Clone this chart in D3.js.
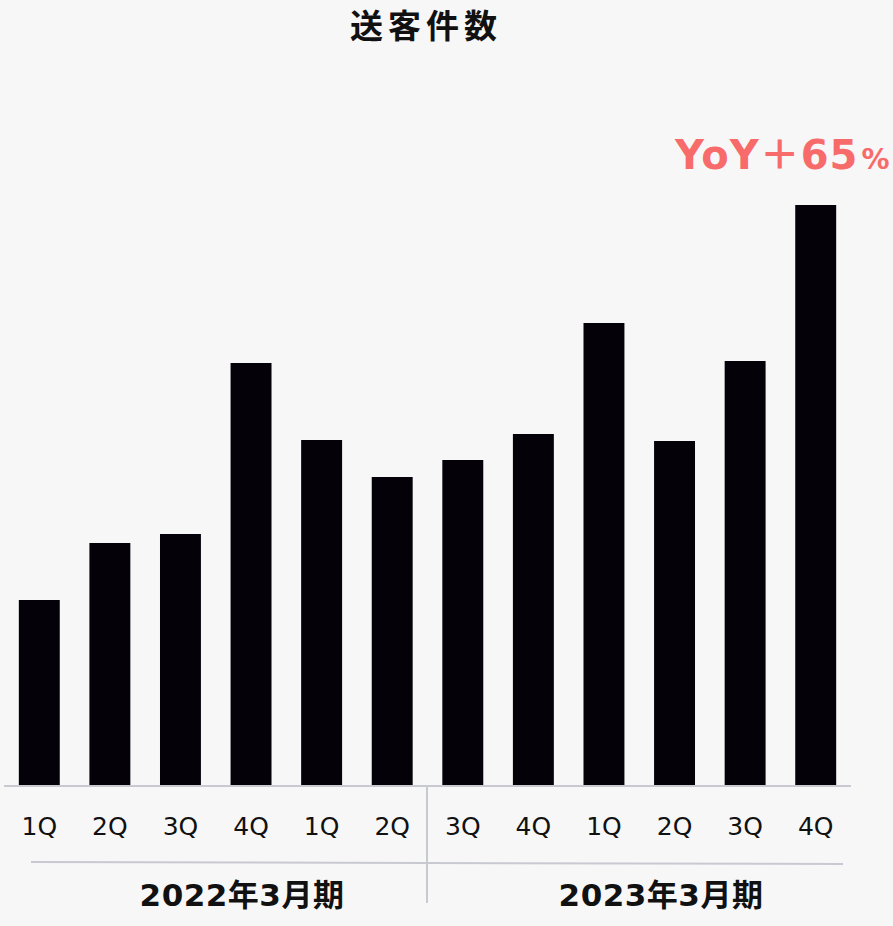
<!DOCTYPE html>
<html>
<head>
<meta charset="utf-8">
<script src="https://cdn.jsdelivr.net/npm/d3@7"></script>
<style>
  html, body { margin: 0; padding: 0; background: #f7f7f7; }
  svg { display: block; }
  text { font-family: "DejaVu Sans", "Noto Sans CJK JP", sans-serif; }
</style>
</head>
<body>
<svg id="chart" width="893" height="926"></svg>
<script>
// Quarterly referral counts (relative units)
const quarters = ["1Q", "2Q", "3Q", "4Q", "1Q", "2Q", "3Q", "4Q", "1Q", "2Q", "3Q", "4Q"];
const values = [185, 242, 251, 422, 345, 308, 325, 351, 462, 344, 424, 580];
const periods = ["2022年3月期", "2023年3月期"];
const title = "送客件数";
const yoyLabel = "YoY＋65";

const svg = d3.select("#chart");
const W = 893, H = 926;
const baseY = 785;

svg.append("rect").attr("width", W).attr("height", H).attr("fill", "#f7f7f7");

const keys = quarters.map((q, i) => i);
const x = d3.scaleBand().domain(keys).range([4, 851]).paddingInner(0.42).paddingOuter(0.21);
const y = d3.scaleLinear().domain([0, 580]).range([baseY, 205]);

// Title
svg.append("text")
  .attr("x", 426).attr("y", 38)
  .attr("text-anchor", "middle")
  .attr("font-size", 33).attr("font-weight", "bold")
  .attr("letter-spacing", 5)
  .attr("fill", "#111")
  .text(title);

// Bars
svg.append("g").selectAll("rect").data(values).join("rect")
  .attr("x", (d, i) => x(i))
  .attr("y", d => y(d))
  .attr("width", x.bandwidth())
  .attr("height", d => baseY - y(d))
  .attr("fill", "#040208");

// Baseline
svg.append("line")
  .attr("x1", 4).attr("x2", 851).attr("y1", baseY + 1).attr("y2", baseY + 1)
  .attr("stroke", "#c9c9d2").attr("stroke-width", 2);

// Quarter axis labels
const xAxis = d3.axisBottom(x).tickSize(0).tickPadding(0).tickFormat(i => quarters[i]);
const ax = svg.append("g").attr("transform", `translate(0,${baseY})`).call(xAxis);
ax.select(".domain").remove();
ax.selectAll("text")
  .attr("dy", null).attr("y", 50)
  .attr("font-size", 25).attr("fill", "#111")
  .attr("font-family", "\"DejaVu Sans\", sans-serif");

// Divider between fiscal periods
const divX = 427;
svg.append("line")
  .attr("x1", divX).attr("x2", divX).attr("y1", baseY + 1).attr("y2", 903)
  .attr("stroke", "#c9c9d2").attr("stroke-width", 2);

// Period bracket line
svg.append("line")
  .attr("x1", 31).attr("x2", 843).attr("y1", 862).attr("y2", 864)
  .attr("stroke", "#c9c9d2").attr("stroke-width", 2);

// Period labels
const periodX = [242, 661];
svg.append("g").selectAll("text").data(periods).join("text")
  .attr("x", (d, i) => periodX[i]).attr("y", 906)
  .attr("text-anchor", "middle")
  .attr("font-size", 31).attr("font-weight", "bold")
  .attr("letter-spacing", 0.5)
  .attr("fill", "#111")
  .text(d => d);

// YoY annotation above the last bar
const yoy = svg.append("text")
  .attr("x", 675).attr("y", 169)
  .attr("font-weight", "bold").attr("fill", "#f76b6b")
  .attr("font-size", 40).attr("letter-spacing", 1);
yoy.append("tspan").text(yoyLabel);
yoy.append("tspan").attr("font-size", 28).attr("dx", 3).text("%");
</script>
</body>
</html>
